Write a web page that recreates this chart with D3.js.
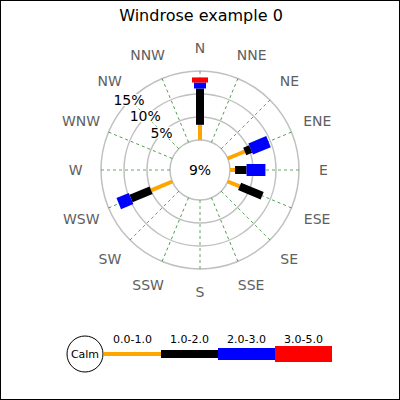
<!DOCTYPE html>
<html><head><meta charset="utf-8">
<script src="https://cdn.jsdelivr.net/npm/d3@7"></script>
<style>body{margin:0;background:#fff}svg{display:block}</style>
</head><body>
<script>
const title = "Windrose example 0";
const compass = ["N","NNE","NE","ENE","E","ESE","SE","SSE","S","SSW","SW","WSW","W","WNW","NW","NNW"];
const rangeLabels = ["0.0-1.0","1.0-2.0","2.0-3.0","3.0-5.0"];
const rangeColors = ["#ffa500","#000000","#0000ff","#ff0000"];
const windDirs = ["N","ENE","E","ESE","WSW"];
const range0 = [3.3, 4.0, 1.1, 2.8, 5.0];
const range1 = [7.9, 1.4, 2.5, 5.3, 4.7];
const range2 = [1.3, 4.2, 4.1, 0, 2.9];
const range3 = [1.1, 0, 0, 0, 0];
const ringTicks = [5, 10, 15];
const calmText = "9%";

const W = 400, H = 400, cx = 200, cy = 170;
const font = "DejaVu Sans, sans-serif";
const svg = d3.select("body").append("svg").attr("width", W).attr("height", H);
svg.append("rect").attr("x",0.5).attr("y",0.5).attr("width",W-1).attr("height",H-1)
  .attr("fill","#fff").attr("stroke","#000");

svg.append("text").attr("x",201).attr("y",21).attr("text-anchor","middle")
  .attr("font-family",font).attr("font-size",16).attr("fill","#000").text(title);

const r = d3.scaleLinear().domain([0,15]).range([30,99]);
const ang = d3.scalePoint().domain(compass.concat(["_"])).range([0, 360]);
const g = svg.append("g").attr("transform",`translate(${cx},${cy})`);

// rings
g.selectAll("circle.ring").data([0].concat(ringTicks)).join("circle")
  .attr("r", d => r(d)).attr("fill","none").attr("stroke","#c0c0c0").attr("stroke-width",1.5);

// radial dashed lines
g.selectAll("line.rad").data(compass).join("line")
  .attr("transform", d => `rotate(${ang(d)})`)
  .attr("x1",0).attr("x2",0).attr("y1",-r(0)).attr("y2",-r(15))
  .attr("stroke","#3f8f3f").attr("stroke-width",0.8).attr("stroke-dasharray","3,3");

// ring labels
const lblG = g.append("g");
ringTicks.forEach(t => {
  const rr = r(t);
  const px = -rr*Math.SQRT1_2, py = -rr*Math.SQRT1_2;
  const txt = lblG.append("text").attr("x",px-1).attr("y",py).attr("dy","0.36em")
    .attr("text-anchor","middle").attr("font-family",font).attr("font-size",14).attr("fill","#000").text(t+"%");
  const bb = txt.node().getBBox();
  lblG.insert("rect","text").attr("x",bb.x).attr("y",bb.y+2).attr("width",bb.width).attr("height",bb.height-4).attr("fill","#fff");
});

// bars
const series = [range0, range1, range2, range3];
const widths = [4, 8, 12, 16];
windDirs.forEach((dir, i) => {
  let cum = 0;
  series.forEach((s, k) => {
    const v = s[i];
    if (v > 0) {
      g.append("line").attr("transform",`rotate(${ang(dir)})`)
        .attr("x1",0).attr("x2",0).attr("y1",-r(cum)).attr("y2",-r(cum+v))
        .attr("stroke",rangeColors[k]).attr("stroke-width",widths[k]).attr("stroke-linecap","butt");
    }
    cum += v;
  });
});

// center text
g.append("text").attr("x",0).attr("y",0).attr("dy","0.36em").attr("text-anchor","middle")
  .attr("font-family",font).attr("font-size",14).attr("fill","#000").text(calmText);

// compass labels
compass.forEach(c => {
  const t = g.append("text").attr("text-anchor","middle").attr("dy","0.36em")
    .attr("font-family",font).attr("font-size",14).attr("fill","#606060").text(c);
  const w = t.node().getBBox().width;
  const a = ang(c)*Math.PI/180;
  const s = Math.sin(a), co = Math.cos(a);
  const R = 122;
  const x = R*s + 0.33*(w/2)*Math.sign(Math.round(s*1000));
  const y = -R*co - 3*Math.abs(Math.sin(2*a))*Math.sign(Math.round(co*1000));
  t.attr("x", x).attr("y", y);
});

// legend
const lx = d3.scaleBand().domain(rangeLabels).range([104, 332]);
const ly = 354;
svg.append("circle").attr("cx",85).attr("cy",ly).attr("r",18).attr("fill","#fff").attr("stroke","#000");
svg.append("text").attr("x",85).attr("y",ly).attr("dy","0.36em").attr("text-anchor","middle")
  .attr("font-family",font).attr("font-size",11).attr("fill","#000").text("Calm");
rangeLabels.forEach((lab, k) => {
  svg.append("line").attr("x1",lx(lab)).attr("x2",lx(lab)+lx.bandwidth()).attr("y1",ly).attr("y2",ly)
    .attr("stroke",rangeColors[k]).attr("stroke-width",widths[k]);
  svg.append("text").attr("x",lx(lab)+lx.bandwidth()/2).attr("y",343).attr("text-anchor","middle")
    .attr("font-family",font).attr("font-size",11).attr("fill","#000").text(lab);
});
</script>
</body></html>
